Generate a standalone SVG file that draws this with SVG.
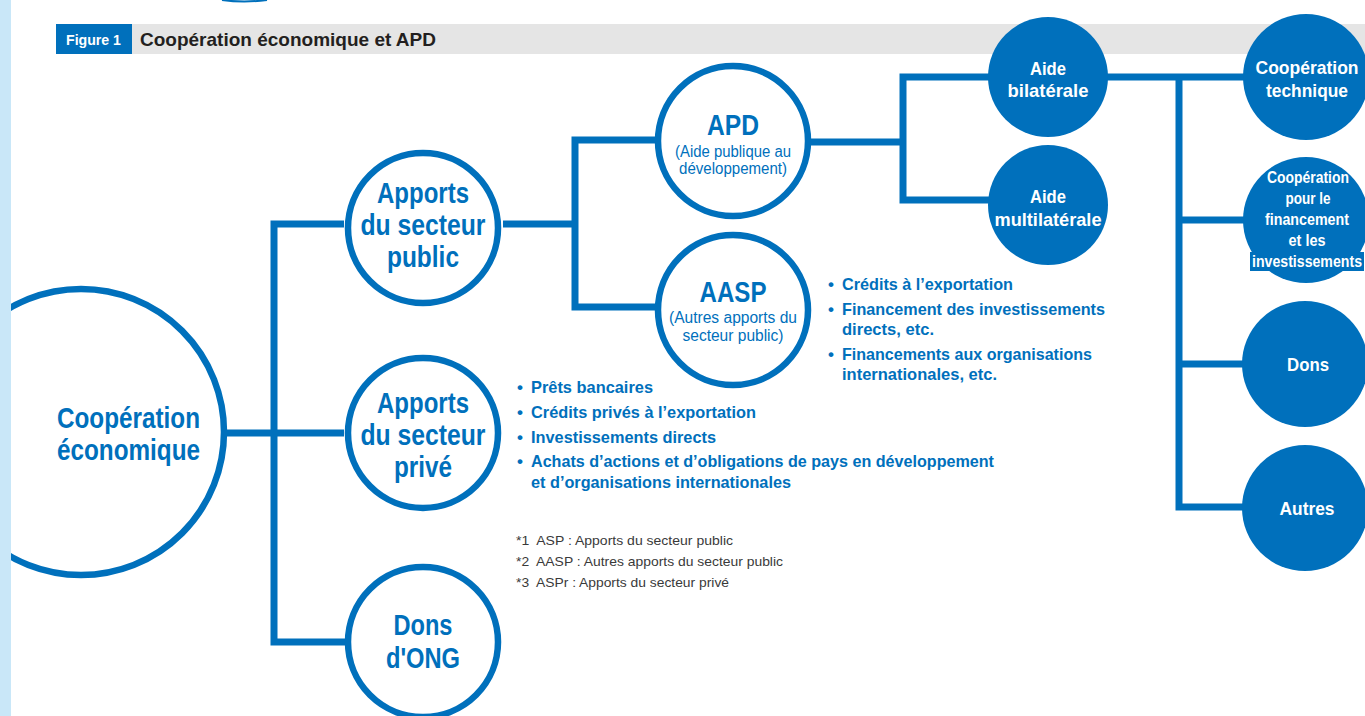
<svg xmlns="http://www.w3.org/2000/svg" width="1365" height="716" viewBox="0 0 1365 716">
<style>
.cn{font-family:"Liberation Sans",Arial,sans-serif;font-weight:bold}
.big{font-size:30px;fill:#0070bc;text-anchor:middle}
.mid{font-size:29px;fill:#0070bc;text-anchor:middle}
.sub{font-family:"Liberation Sans",Arial,sans-serif;font-size:16px;fill:#0070bc;text-anchor:middle}
.wt{font-size:19px;fill:#fff;text-anchor:middle}
.wts{font-size:17px;fill:#fff;text-anchor:middle}
.bl{font-size:17px;fill:#0070bc}
.fn{font-family:"Liberation Sans",Arial,sans-serif;font-size:13px;fill:#3a3a3a}
.ring{fill:#fff;stroke:#0070bc;stroke-width:6.5}
.disc{fill:#0070bc}
.ln{fill:none;stroke:#0070bc;stroke-width:7;stroke-linejoin:miter}
</style>
<rect width="1365" height="716" fill="#fff"/>
<path d="M222 0 Q244 3 267 0" fill="none" stroke="#0070bc" stroke-width="2"/>
<g id="title">
<rect x="56" y="24" width="1309" height="30" fill="#e5e5e5"/>
<rect x="56" y="24" width="76" height="30" fill="#0070bc"/>
<text x="66" y="45" class="cn" font-size="14" fill="#fff" textLength="55" lengthAdjust="spacingAndGlyphs">Figure 1</text>
<text x="140" y="46" class="cn" font-size="19" fill="#231f20" textLength="296" lengthAdjust="spacingAndGlyphs">Coopération économique et APD</text>
</g>
<g id="connectors">
<path class="ln" d="M227 433 H344"/>
<path class="ln" d="M344 224 H274 V642 H345"/>
<path class="ln" d="M503 224 H575"/>
<path class="ln" d="M658 140 H575 V307 H658"/>
<path class="ln" d="M808 142 H903"/>
<path class="ln" d="M990 77 H903 V200 H990"/>
<path class="ln" d="M1106 77 H1245"/>
<path class="ln" d="M1179 77 V507 H1245"/>
<path class="ln" d="M1179 220 H1245"/>
<path class="ln" d="M1179 364 H1245"/>
</g>
<g id="cooperation-economique">
<circle class="ring" cx="81" cy="432" r="143"/>
<text class="cn big" x="128.5" y="428" textLength="143" lengthAdjust="spacingAndGlyphs">Coopération</text>
<text class="cn big" x="128.5" y="460" textLength="143" lengthAdjust="spacingAndGlyphs">économique</text>
</g>
<g id="apports-public">
<circle class="ring" cx="423" cy="228" r="75"/>
<text class="cn mid" x="423" y="203" textLength="92" lengthAdjust="spacingAndGlyphs">Apports</text>
<text class="cn mid" x="423" y="235" textLength="125" lengthAdjust="spacingAndGlyphs">du secteur</text>
<text class="cn mid" x="423" y="267" textLength="72" lengthAdjust="spacingAndGlyphs">public</text>
</g>
<g id="apports-prive">
<circle class="ring" cx="423" cy="433" r="75"/>
<text class="cn mid" x="423" y="413" textLength="92" lengthAdjust="spacingAndGlyphs">Apports</text>
<text class="cn mid" x="423" y="445" textLength="125" lengthAdjust="spacingAndGlyphs">du secteur</text>
<text class="cn mid" x="423" y="477" textLength="58" lengthAdjust="spacingAndGlyphs">privé</text>
</g>
<g id="dons-ong">
<circle class="ring" cx="423" cy="642" r="75"/>
<text class="cn mid" x="423" y="635" textLength="59" lengthAdjust="spacingAndGlyphs">Dons</text>
<text class="cn mid" x="423" y="668" textLength="74" lengthAdjust="spacingAndGlyphs">d'ONG</text>
</g>
<g id="apd">
<circle class="ring" cx="733" cy="141" r="75"/>
<text class="cn mid" x="733" y="135" textLength="52" lengthAdjust="spacingAndGlyphs">APD</text>
<text class="sub" x="733" y="157" textLength="116" lengthAdjust="spacingAndGlyphs">(Aide publique au</text>
<text class="sub" x="733" y="174" textLength="108" lengthAdjust="spacingAndGlyphs">développement)</text>
</g>
<g id="aasp">
<circle class="ring" cx="733" cy="310" r="75"/>
<text class="cn mid" x="733" y="302" textLength="67" lengthAdjust="spacingAndGlyphs">AASP</text>
<text class="sub" x="733" y="323" textLength="128" lengthAdjust="spacingAndGlyphs">(Autres apports du</text>
<text class="sub" x="733" y="341" textLength="101" lengthAdjust="spacingAndGlyphs">secteur public)</text>
</g>
<g id="aide-bilaterale">
<circle class="disc" cx="1048" cy="77" r="60"/>
<text class="cn wt" x="1048" y="75" textLength="36" lengthAdjust="spacingAndGlyphs">Aide</text>
<text class="cn wt" x="1048" y="97" textLength="81" lengthAdjust="spacingAndGlyphs">bilatérale</text>
</g>
<g id="aide-multilaterale">
<circle class="disc" cx="1048" cy="205" r="60"/>
<text class="cn wt" x="1048" y="203" textLength="36" lengthAdjust="spacingAndGlyphs">Aide</text>
<text class="cn wt" x="1048" y="226" textLength="107" lengthAdjust="spacingAndGlyphs">multilatérale</text>
</g>
<g id="cooperation-technique">
<circle class="disc" cx="1306" cy="77" r="63"/>
<text class="cn wt" x="1307" y="74" textLength="103" lengthAdjust="spacingAndGlyphs">Coopération</text>
<text class="cn wt" x="1307" y="97" textLength="82" lengthAdjust="spacingAndGlyphs">technique</text>
</g>
<g id="cooperation-financement">
<circle class="disc" cx="1306" cy="220" r="63"/>
<rect x="1250" y="252" width="114" height="19" fill="#0070bc"/>
<text class="cn wts" x="1308" y="183" textLength="82" lengthAdjust="spacingAndGlyphs">Coopération</text>
<text class="cn wts" x="1308" y="204" textLength="45" lengthAdjust="spacingAndGlyphs">pour le</text>
<text class="cn wts" x="1307" y="225" textLength="84" lengthAdjust="spacingAndGlyphs">financement</text>
<text class="cn wts" x="1307" y="246" textLength="37" lengthAdjust="spacingAndGlyphs">et les</text>
<text class="cn wts" x="1307" y="267" textLength="110" lengthAdjust="spacingAndGlyphs">investissements</text>
</g>
<g id="dons">
<circle class="disc" cx="1305" cy="364" r="63"/>
<text class="cn wt" x="1308" y="371" textLength="42" lengthAdjust="spacingAndGlyphs">Dons</text>
</g>
<g id="autres">
<circle class="disc" cx="1305" cy="508" r="63"/>
<text class="cn wt" x="1307" y="515" textLength="55" lengthAdjust="spacingAndGlyphs">Autres</text>
</g>
<g id="aasp-list">
<text class="cn bl" x="828" y="290">•</text><text class="cn bl" x="842" y="290" textLength="171" lengthAdjust="spacingAndGlyphs">Crédits à l’exportation</text>
<text class="cn bl" x="828" y="315">•</text><text class="cn bl" x="842" y="315" textLength="263" lengthAdjust="spacingAndGlyphs">Financement des investissements</text>
<text class="cn bl" x="842" y="335" textLength="92" lengthAdjust="spacingAndGlyphs">directs, etc.</text>
<text class="cn bl" x="828" y="360">•</text><text class="cn bl" x="842" y="360" textLength="250" lengthAdjust="spacingAndGlyphs">Financements aux organisations</text>
<text class="cn bl" x="842" y="380" textLength="155" lengthAdjust="spacingAndGlyphs">internationales, etc.</text>
</g>
<g id="prive-list">
<text class="cn bl" x="517" y="393">•</text><text class="cn bl" x="531" y="393" textLength="122" lengthAdjust="spacingAndGlyphs">Prêts bancaires</text>
<text class="cn bl" x="517" y="418">•</text><text class="cn bl" x="531" y="418" textLength="225" lengthAdjust="spacingAndGlyphs">Crédits privés à l’exportation</text>
<text class="cn bl" x="517" y="443">•</text><text class="cn bl" x="531" y="443" textLength="185" lengthAdjust="spacingAndGlyphs">Investissements directs</text>
<text class="cn bl" x="517" y="467">•</text><text class="cn bl" x="531" y="467" textLength="463" lengthAdjust="spacingAndGlyphs">Achats d’actions et d’obligations de pays en développement</text>
<text class="cn bl" x="531" y="488" textLength="260" lengthAdjust="spacingAndGlyphs">et d’organisations internationales</text>
</g>
<g id="footnotes">
<text class="fn" x="516" y="545" textLength="217" lengthAdjust="spacingAndGlyphs" xml:space="preserve">*1  ASP : Apports du secteur public</text>
<text class="fn" x="516" y="566" textLength="267" lengthAdjust="spacingAndGlyphs" xml:space="preserve">*2  AASP : Autres apports du secteur public</text>
<text class="fn" x="516" y="587" textLength="213" lengthAdjust="spacingAndGlyphs" xml:space="preserve">*3  ASPr : Apports du secteur privé</text>
</g>
<rect x="0" y="0" width="11" height="716" fill="#c9e7f8"/>
</svg>
